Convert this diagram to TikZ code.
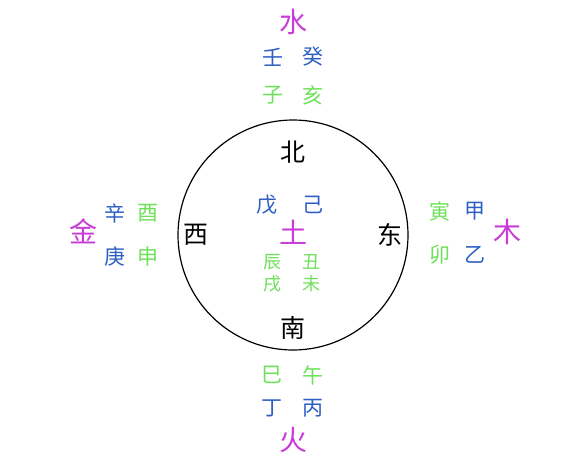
\documentclass[tikz,border=0pt]{standalone}
\usepackage{fontspec}
\newfontfamily\cjk{Noto Sans CJK SC}
\definecolor{xing}{RGB}{200,60,215}
\definecolor{gan}{RGB}{45,95,195}
\definecolor{zhi}{RGB}{110,225,90}
\tikzset{
  xingnode/.style={text=xing,font=\cjk\fontsize{28}{28}\selectfont,inner sep=0pt},
  gannode/.style={text=gan,font=\cjk\fontsize{21}{21}\selectfont,inner sep=0pt},
  zhinode/.style={text=zhi,font=\cjk\fontsize{21}{21}\selectfont,inner sep=0pt},
  zhismall/.style={text=zhi,font=\cjk\fontsize{18}{18}\selectfont,inner sep=0pt},
  fangnode/.style={text=black,font=\cjk\fontsize{25}{25}\selectfont,inner sep=0pt}
}

\begin{document}
\begin{tikzpicture}[x=1pt,y=-1pt]
                \useasboundingbox (0,0) rectangle (580,461);
                \draw[line width=1.2pt] (293,235) circle (115);
                % north
                \node[xingnode] (shui) at (293,22) {水};
                \node[gannode] (ren) at (273,57) {壬};
                \node[gannode] (gui) at (313,57) {癸};
                \node[zhinode] (zi) at (273,95) {子};
                \node[zhinode] (hai) at (313,95) {亥};
                \node[fangnode] (bei) at (293,152) {北};
                % west
                \node[xingnode] (jin) at (83,231) {金};
                \node[gannode] (xin) at (115,213) {辛};
                \node[gannode] (geng) at (115,257) {庚};
                \node[zhinode] (you) at (148,213) {酉};
                \node[zhinode] (shen) at (148,257) {申};
                \node[fangnode] (xi) at (196,235) {西};
                % east
                \node[zhinode] (yin) at (440,211) {寅};
                \node[zhinode] (mao) at (440,255) {卯};
                \node[gannode] (jia) at (475,211) {甲};
                \node[gannode] (yi) at (475,255) {乙};
                \node[xingnode] (mu) at (507,232) {木};
                \node[fangnode] (dong) at (390,235) {东};
                % centre
                \node[gannode] (wu) at (267,205) {戊};
                \node[gannode] (ji) at (313,205) {己};
                \node[xingnode] (tu) at (293,232) {土};
                \node[zhismall] (chen) at (272,262) {辰};
                \node[zhismall] (chou) at (311,262) {丑};
                \node[zhismall] (xu) at (272,284) {戌};
                \node[zhismall] (wei) at (311,284) {未};
                % south
                \node[fangnode] (nan) at (293,328) {南};
                \node[zhinode] (si) at (272,375) {巳};
                \node[zhinode] (wuma) at (313,375) {午};
                \node[gannode] (ding) at (272,408) {丁};
                \node[gannode] (bing) at (313,408) {丙};
                \node[xingnode] (huo) at (293,440) {火};
\end{tikzpicture}
\end{document}
